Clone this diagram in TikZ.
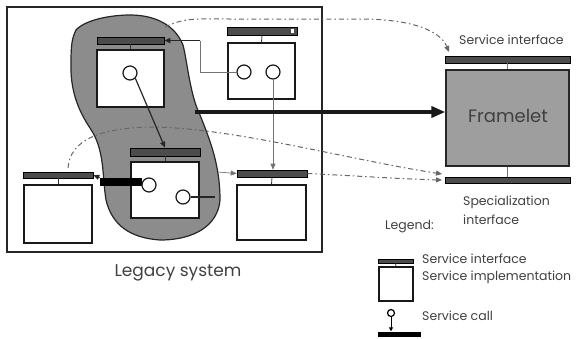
\documentclass[tikz,border=0pt]{standalone}
\usepackage{fontspec}
\setmainfont{Poppins}
\usetikzlibrary{arrows.meta}
\begin{document}
\begin{tikzpicture}[x=1pt,y=-1pt,
  ibar/.style={draw=black,fill=black!70,line width=0.6pt,inner sep=0pt},
  impl/.style={draw=black!90,fill=white,line width=1.3pt,inner sep=0pt},
  circ/.style={circle,draw=black!90,fill=white,line width=1.2pt,inner sep=0pt,minimum size=14pt},
  stem/.style={draw=black!80,line width=0.8pt},
  thin/.style={draw=black!55,line width=0.7pt},
  dd/.style={draw=black!60,line width=1pt,dash pattern=on 5pt off 3pt on 1.5pt off 3pt},
  lbl/.style={text=black!75,inner sep=0pt},
  tip/.style={-{Triangle[length=6pt,width=5pt]}}
]
\useasboundingbox (0,0) rectangle (578,338);
% legacy frame
\node[draw=black!85,line width=1.3pt,minimum width=315pt,minimum height=245pt,inner sep=0pt] (frame) at (164.5,129.5) {};
% blob
\draw[draw=black!85,fill=black!45,line width=1.2pt]
  (76,30) .. controls (85,20) and (110,15) .. (130,15)
  .. controls (155,15) and (175,25) .. (183,45)
  .. controls (187,60) and (190,95) .. (200,115)
  .. controls (210,140) and (220,165) .. (220,200)
  .. controls (218,225) and (195,240) .. (160,240)
  .. controls (130,238) and (112,225) .. (106,200)
  .. controls (102,175) and (105,150) .. (90,128)
  .. controls (78,110) and (70,90) .. (71,62)
  .. controls (71,45) and (72,38) .. (76,30) -- cycle;
% box A
\node[impl,minimum width=67pt,minimum height=57pt] (boxA) at (130.5,78.5) {};
\node[ibar,minimum width=67pt,minimum height=7pt] (barA) at (130.5,40.5) {};
\draw[stem] (barA.south) -- (boxA.north);
\node[circ] (cA) at (130,73) {};
% box B
\node[impl,minimum width=67pt,minimum height=56pt] (boxB) at (261.5,71) {};
\node[ibar,minimum width=70pt,minimum height=8pt] (barB) at (262,31) {};
\node[fill=white,minimum width=3pt,minimum height=4pt,inner sep=0pt] (barBend) at (292.5,31) {};
\draw[stem] (barB.south) -- (boxB.north);
\node[circ] (cB1) at (244,72) {};
\node[circ] (cB2) at (273,72) {};
% box C
\node[impl,minimum width=68pt,minimum height=56pt] (boxC) at (165,190) {};
\node[ibar,minimum width=70pt,minimum height=8pt] (barC) at (165,152) {};
\draw[stem] (barC.south) -- (boxC.north);
% box D
\node[impl,minimum width=68pt,minimum height=58pt] (boxD) at (58,214) {};
\node[ibar,minimum width=70pt,minimum height=6pt] (barD) at (58,175) {};
\draw[stem] (barD.south) -- (boxD.north);
% box E
\node[impl,minimum width=69pt,minimum height=55pt] (boxE) at (271.5,212.5) {};
\node[ibar,minimum width=70pt,minimum height=7pt] (barE) at (272,173.5) {};
\draw[stem] (barE.south) -- (boxE.north);
% service call from C1 to D
\node[fill=black,minimum width=42pt,minimum height=8pt,inner sep=0pt] (callC) at (121,182) {};
\node[circ] (cC1) at (149,185) {};
\node[circ] (cC2) at (183,197) {};
\coordinate (c2end) at (215,197);
\draw[black!85,line width=1.5pt] (cC2.east) -- (c2end);
\draw[black!85,line width=0.8pt,tip] (callC.north west) -- (barD.east);
% A -> C
\draw[black!85,line width=1.2pt,tip] (cA.south east) -- (barC.north);
% B1 -> A
\coordinate (kB) at (200,72);
\coordinate (kA) at (200,40.5);
\draw[thin] (cB1.west) -- (kB) -- (kA);
\draw[black!85,line width=1.6pt,tip] (kA) -- (barA.east);
% B2 -> E
\draw[thin,tip] (cB2.south) -- (barE.north -| cB2.south);
\coordinate (eStart) at (218,172);
\draw[thin,tip] (eStart) -- (barE.west);
% framelet
\node[draw=black!85,fill=black!38,line width=1.3pt,minimum width=123pt,minimum height=96pt,inner sep=0pt] (fw) at (507.5,118) {};
\node[lbl,font=\fontsize{18}{20}\selectfont] (fwt) at (508,116) {Framelet};
\node[ibar,minimum width=125pt,minimum height=7pt] (fsi) at (507.5,59.5) {};
\node[ibar,minimum width=125pt,minimum height=6pt] (fsp) at (507.5,180) {};
\draw[thin] (fsi.south) -- (fw.north);
\draw[thin] (fw.south) -- (fsp.north);
% thick arrow
\coordinate (thickStart) at (195,112);
\draw[black!90,line width=3.5pt,-{Triangle[length=14pt,width=11pt]}] (thickStart) -- (fw.west |- thickStart);
% dash-dot curves
\coordinate (d1) at (165,27);
\draw[dd,tip] (d1) .. controls (185,17) and (200,19) .. (230,19) -- (360,19) .. controls (410,19) and (440,30) .. (449,52);
\coordinate (d2) at (68,168);
\draw[dd,tip] (d2) .. controls (70,140) and (100,128) .. (150,127) .. controls (230,127) and (350,160) .. (442,174);
\draw[dd,tip] (barE.east) .. controls (360,176) and (400,179) .. (442,180);
% labels
\node[lbl,font=\fontsize{17}{19}\selectfont] (legacy) at (178,273) {Legacy system};
\node[lbl,anchor=west,font=\fontsize{12.5}{14}\selectfont] (tsi) at (459,40) {Service interface};
\node[lbl,anchor=north west,align=left,font=\fontsize{12.5}{19}\selectfont] (tsp) at (463,196) {Specialization\\interface};
\node[lbl,anchor=west,font=\fontsize{12.5}{14}\selectfont] (tleg) at (385,227) {Legend:};
% legend
\node[ibar,minimum width=35pt,minimum height=4pt] (lbar) at (395.5,261) {};
\node[impl,minimum width=34pt,minimum height=34pt] (lbox) at (396,284) {};
\draw[stem] (lbar.south) -- (lbox.north);
\node[lbl,anchor=west,font=\fontsize{12.5}{14}\selectfont] (lt1) at (422,259) {Service interface};
\node[lbl,anchor=west,font=\fontsize{12.5}{14}\selectfont] (lt2) at (422,277) {Service implementation};
\node[fill=black,minimum width=43pt,minimum height=5pt,inner sep=0pt] (lcb) at (399.5,334) {};
\node[circle,draw=black,line width=1.2pt,fill=white,minimum size=7pt,inner sep=0pt] (lcc) at (391,313) {};
\draw[black,line width=0.9pt,-{Triangle[length=4pt,width=4pt]}] (lcc.south) -- (lcc.south |- lcb.north);
\node[lbl,anchor=west,font=\fontsize{12.5}{14}\selectfont] (lt3) at (422,316) {Service call};
\end{tikzpicture}
\end{document}
